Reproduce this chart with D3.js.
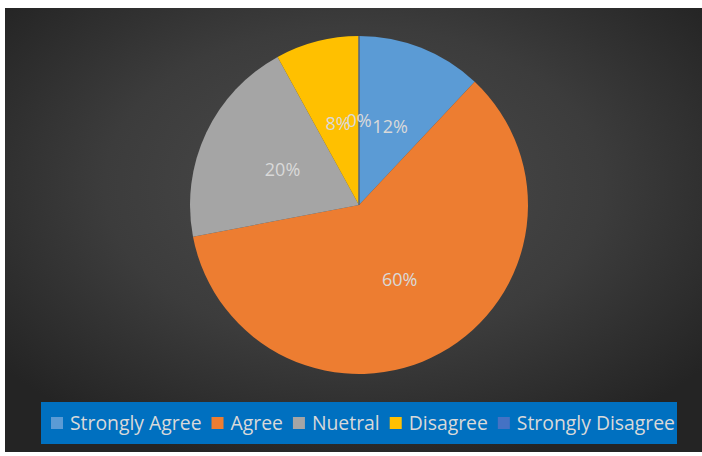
<!DOCTYPE html>
<html>
<head>
<meta charset="utf-8">
<script src="https://cdn.jsdelivr.net/npm/d3@7/dist/d3.min.js"></script>
<style>
  html, body { margin: 0; padding: 0; background: #ffffff; }
  svg { display: block; }
</style>
</head>
<body>
<svg id="chart" width="702" height="456"></svg>
<script>
// Survey responses
const categories = ["Strongly Agree", "Agree", "Nuetral", "Disagree", "Strongly Disagree"];
const values = [12, 60, 20, 8, 0];
const colors = ["#5B9BD5", "#ED7D31", "#A5A5A5", "#FFC000", "#4472C4"];

const svg = d3.select("#chart");
const W = 702, H = 456;

// Dark radial background panel
const defs = svg.append("defs");
const grad = defs.append("radialGradient")
  .attr("id", "bg")
  .attr("cx", "50%").attr("cy", "40%").attr("r", "65%");
grad.append("stop").attr("offset", "0%").attr("stop-color", "#4c4c4c");
grad.append("stop").attr("offset", "55%").attr("stop-color", "#3c3c3c");
grad.append("stop").attr("offset", "100%").attr("stop-color", "#242424");

svg.append("rect")
  .attr("x", 5).attr("y", 8)
  .attr("width", W - 5).attr("height", 444)
  .attr("fill", "url(#bg)");

// Pie
const cx = 359, cy = 205, R = 169;
const total = d3.sum(values);
const pie = d3.pie().sort(null).value(d => d.v);
const data = pie(categories.map((c, i) => ({ c, v: values[i], color: colors[i] })));
const arc = d3.arc().innerRadius(0).outerRadius(R);

const g = svg.append("g").attr("transform", `translate(${cx},${cy})`);

g.selectAll("path.slice")
  .data(data)
  .join("path")
  .attr("class", "slice")
  .attr("d", arc)
  .attr("fill", d => d.data.color)
  .attr("stroke", d => d.data.v === 0 ? "#55657a" : "none")
  .attr("stroke-width", 1);

const pct = d3.format(".0%");
g.selectAll("text.lbl")
  .data(data)
  .join("text")
  .attr("class", "lbl")
  .attr("transform", d => {
    // label at half radius along the slice mid-angle
    const a = (d.startAngle + d.endAngle) / 2;
    const r = R * 0.5;
    return `translate(${r * Math.sin(a)},${-r * Math.cos(a)})`;
  })
  .attr("text-anchor", "middle")
  .attr("dy", "0.36em")
  .attr("font-family", "'Open Sans', sans-serif")
  .attr("font-size", 18)
  .attr("fill", "#d9d9d9")
  .text(d => pct(d.data.v / total));

// Legend
const legend = svg.append("g");
legend.append("rect")
  .attr("x", 41).attr("y", 402)
  .attr("width", 636).attr("height", 42)
  .attr("fill", "#0070C0");

const items = categories.map((c, i) => {
  const t = legend.append("text")
    .attr("y", 430)
    .attr("font-family", "'Open Sans', sans-serif")
    .attr("font-size", 20)
    .attr("fill", "#d9d9d9")
    .text(c);
  return { t, w: t.node().getComputedTextLength(), i };
});
// fit the entries into the legend band (x 51 .. 675)
const sq = 12, pad = 7, gap = 10;
const fixed = categories.length * (sq + pad) + (categories.length - 1) * gap;
const natural = d3.sum(items, d => d.w);
const k = Math.min(1, (675 - 51 - fixed) / natural);

let x = 51;
items.forEach(({ t, w, i }) => {
  legend.append("rect")
    .attr("x", x).attr("y", 417)
    .attr("width", sq).attr("height", sq)
    .attr("fill", colors[i]);
  const tw = w * k;
  t.attr("x", x + sq + pad)
    .attr("textLength", tw)
    .attr("lengthAdjust", "spacingAndGlyphs");
  x += sq + pad + tw + gap;
});
</script>
</body>
</html>
